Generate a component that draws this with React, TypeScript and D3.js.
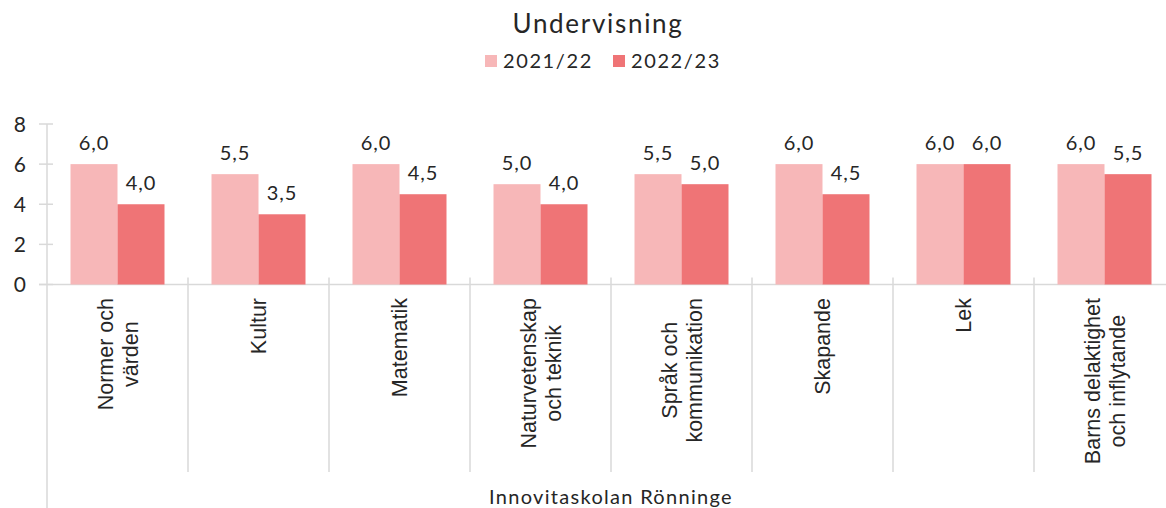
import React, { useEffect, useRef } from "react";
import * as d3 from "d3";

const categories = [
  "Normer och\nvärden",
  "Kultur",
  "Matematik",
  "Naturvetenskap\noch teknik",
  "Språk och\nkommunikation",
  "Skapande",
  "Lek",
  "Barns delaktighet\noch inflytande",
];
const seriesNames = ["2021/22", "2022/23"];
const values2122 = [6.0, 5.5, 6.0, 5.0, 5.5, 6.0, 6.0, 6.0];
const values2223 = [4.0, 3.5, 4.5, 4.0, 5.0, 4.5, 6.0, 5.5];
const yTicks = [0, 2, 4, 6, 8];
const colors = ["#F7B7B8", "#EF7476"];
const title = "Undervisning";
const groupLabel = "Innovitaskolan Rönninge";

const W = 1166;
const H = 508;
const UI_FONT = "Lato, 'Open Sans', sans-serif";
const CAT_FONT = "'Liberation Sans', Arial, sans-serif";
const AXIS_COLOR = "#D9D9D9";
const TEXT_COLOR = "#262626";

export default function App() {
  const ref = useRef<SVGSVGElement | null>(null);

  useEffect(() => {
    const svg = d3.select(ref.current);
    svg.selectAll("*").remove();

    const x0 = d3.scaleBand<string>().domain(categories).range([47, 1175]).paddingInner(0).paddingOuter(0);
    const x1 = d3.scaleBand<string>().domain(seriesNames).range([0, x0.bandwidth()]).paddingInner(0).paddingOuter(0.5);
    const y = d3.scaleLinear().domain([0, 8]).range([284.5, 124]);
    const fmt = (v: number) => d3.format(".1f")(v).replace(".", ",");

    // Title
    svg.append("text")
      .attr("x", 598).attr("y", 33)
      .attr("text-anchor", "middle")
      .attr("font-family", UI_FONT).attr("font-size", 26)
      .attr("letter-spacing", 1.7)
      .attr("fill", TEXT_COLOR)
      .text(title);

    // Legend
    const legendX = [485, 613];
    seriesNames.forEach((s, i) => {
      svg.append("rect")
        .attr("x", legendX[i]).attr("y", 55).attr("width", 12).attr("height", 12)
        .attr("fill", colors[i]);
      svg.append("text")
        .attr("x", legendX[i] + 18).attr("y", 68)
        .attr("font-family", UI_FONT).attr("font-size", 20)
        .attr("letter-spacing", 1.6)
        .attr("fill", TEXT_COLOR)
        .text(s);
    });

    // Y axis
    const gy = svg.append("g");
    gy.append("line")
      .attr("x1", 47).attr("x2", 47).attr("y1", y(8)).attr("y2", H)
      .attr("stroke", AXIS_COLOR).attr("stroke-width", 1.5);
    yTicks.forEach((t) => {
      gy.append("line")
        .attr("x1", 39).attr("x2", 53).attr("y1", y(t)).attr("y2", y(t))
        .attr("stroke", AXIS_COLOR).attr("stroke-width", 1.5);
      gy.append("text")
        .attr("x", 26).attr("y", y(t)).attr("dy", "0.36em")
        .attr("text-anchor", "end")
        .attr("font-family", UI_FONT).attr("font-size", 21)
        .attr("fill", TEXT_COLOR)
        .text(String(t));
    });

    // Baseline
    svg.append("line")
      .attr("x1", 39).attr("x2", 1175).attr("y1", y(0)).attr("y2", y(0))
      .attr("stroke", AXIS_COLOR).attr("stroke-width", 1.5);

    // Category separators
    categories.forEach((c, i) => {
      if (i === 0) return;
      const xx = x0(c)!;
      svg.append("line")
        .attr("x1", xx).attr("x2", xx).attr("y1", y(0) - 7).attr("y2", 472)
        .attr("stroke", AXIS_COLOR).attr("stroke-width", 1.5);
    });
    svg.append("line")
      .attr("x1", 1175).attr("x2", 1175).attr("y1", y(0) - 7).attr("y2", H)
      .attr("stroke", AXIS_COLOR).attr("stroke-width", 1.5);

    // Bars + labels
    const allSeries = [values2122, values2223];
    allSeries.forEach((vals, si) => {
      const g = svg.append("g");
      g.selectAll("rect")
        .data(vals)
        .join("rect")
        .attr("x", (_d, i) => x0(categories[i])! + x1(seriesNames[si])!)
        .attr("y", (d) => y(d))
        .attr("width", x1.bandwidth())
        .attr("height", (d) => y(0) - y(d))
        .attr("fill", colors[si]);
      g.selectAll("text")
        .data(vals)
        .join("text")
        .attr("x", (_d, i) => x0(categories[i])! + x1(seriesNames[si])! + x1.bandwidth() / 2)
        .attr("y", (d) => y(d) - 14)
        .attr("text-anchor", "middle")
        .attr("font-family", UI_FONT).attr("font-size", 20)
        .attr("letter-spacing", 1)
        .attr("fill", TEXT_COLOR)
        .text((d) => fmt(d));
    });

    // Category labels (rotated, lines centered to each other, block top at 297)
    const lineGap = 25;
    categories.forEach((c) => {
      const lines = c.split("\n");
      const cx = x0(c)! + x0.bandwidth() / 2;
      const g = svg.append("g");
      const texts = lines.map((ln) =>
        g.append("text")
          .attr("font-family", CAT_FONT).attr("font-size", 21.5)
          .attr("fill", TEXT_COLOR)
          .attr("text-anchor", "middle")
          .text(ln)
      );
      const widths = texts.map((t) => (t.node() as SVGTextElement).getComputedTextLength());
      const maxW = Math.max(...widths);
      const cy = 298 + maxW / 2;
      const n = lines.length;
      texts.forEach((t, li) => {
        const bx = cx + (li - (n - 1) / 2) * lineGap + 7.5;
        t.attr("transform", `translate(${bx},${cy}) rotate(-90)`);
      });
    });

    // Group label
    svg.append("text")
      .attr("x", 611).attr("y", 504)
      .attr("text-anchor", "middle")
      .attr("font-family", UI_FONT).attr("font-size", 20)
      .attr("letter-spacing", 1.3)
      .attr("fill", TEXT_COLOR)
      .text(groupLabel);
  }, []);

  return (
    <svg
      ref={ref}
      width={W}
      height={H}
      style={{ position: "absolute", left: 0, top: 0, background: "#fff" }}
    />
  );
}
